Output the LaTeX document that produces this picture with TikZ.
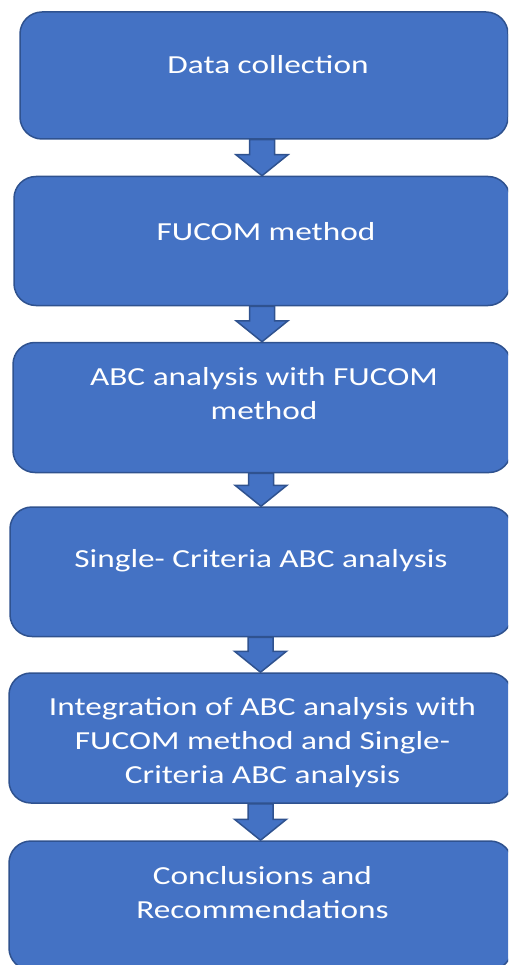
\documentclass[tikz,border=0pt]{standalone}
\usepackage{fontspec}
\setmainfont{Carlito}[FakeStretch=1.28]
\usetikzlibrary{
    calc,       % For the arrow outlines
    positioning % For relative placement of nodes
}

\definecolor{boxfill}{HTML}{4472C4}
\definecolor{boxline}{HTML}{2F528F}

\begin{document}
\begin{tikzpicture}[
    x=1pt, y=1pt,
    stepbox/.style={draw=boxline, fill=boxfill, line width=1.5pt, rounded corners=22pt, inner sep=0pt},
    boxtext/.style={text=white, align=center, inner sep=0pt, font=\fontsize{26}{34}\selectfont},
    flowarrow/.style={draw=boxline, fill=boxfill, line width=1.5pt, line join=miter}
]
    % Arrow half widths (shaft, head) and head length
    \def\SW{12.5}
    \def\HW{26}
    \def\HL{21}

    % Page frame
    \clip (0,0) rectangle (508,-965);

    % The six steps
    \node[stepbox, minimum width=488, minimum height=127] (b1) at (264,-75.5) {};
    \node[stepbox, minimum width=496, minimum height=129] (b2) at (262,-241) {};
    \node[stepbox, minimum width=498, minimum height=130] (b3) at (262,-407.5) {};
    \node[stepbox, minimum width=502, minimum height=129.5] (b4) at (261,-571.75) {};
    \node[stepbox, minimum width=503, minimum height=130] (b5) at (260.5,-738) {};
    \node[stepbox, minimum width=503, minimum height=129] (b6) at (260.5,-905.5) {};

    % Labels, set a little above the middle
    \node[boxtext] (t1) at ([xshift=4,yshift=10.5]b1.center) {Data collection};
    \node[boxtext] (t2) at ([xshift=4,yshift=9]b2.center) {FUCOM method};
    \node[boxtext] (t3) at ([xshift=2,yshift=14]b3.center) {ABC analysis with FUCOM\\method};
    \node[boxtext] (t4) at ([xshift=0,yshift=11]b4.center) {Single- Criteria ABC analysis};
    \node[boxtext] (t5) at ([xshift=2,yshift=-5]b5.center) {Integration of ABC analysis with\\FUCOM method and Single-\\Criteria ABC analysis};
    \node[boxtext] (t6) at ([xshift=2,yshift=12.5]b6.center) {Conclusions and\\Recommendations};

    % Block arrows from one step to the next
    \foreach \a/\b in {b1/b2, b2/b3, b3/b4, b4/b5, b5/b6} {
        \draw[flowarrow] ($(\b.north |- \a.south)+(-\SW,0)$) -- ($(\b.north)+(-\SW,\HL)$)
            -- ($(\b.north)+(-\HW,\HL)$) -- (\b.north) -- ($(\b.north)+(\HW,\HL)$)
            -- ($(\b.north)+(\SW,\HL)$) -- ($(\b.north |- \a.south)+(\SW,0)$) -- cycle;
    }
\end{tikzpicture}
\end{document}
